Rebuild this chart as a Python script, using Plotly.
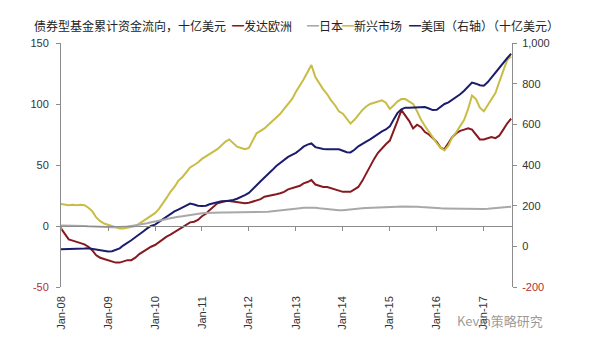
import plotly.graph_objects as go
import pandas as pd

# Monthly observations, Jan 2008 - Aug 2017
dates = pd.date_range("2008-01-01", "2017-08-01", freq="MS")

# Cumulative bond-fund flows, USD bn (left axis)
europe = [
    -2, -7, -11, -12, -13, -14, -15, -17, -20, -24, -26, -27,
    -28, -29, -30, -30, -29, -28, -28, -26, -23, -21, -19, -17,
    -15.6, -13, -11, -8.7, -7, -5, -3.3, -1, 1, 3, 3.5, 5,
    8, 10, 13, 16, 18.6, 19.5, 20.5, 20.5, 20, 19, 18.6, 18.6,
    19, 20, 21, 22, 24, 24.5, 25.5, 26, 26.8, 28, 30, 31,
    32, 33, 35, 36, 37.7, 34, 33, 32, 32, 31, 30, 29.5,
    28, 28, 28, 30, 32, 37, 43, 50, 55, 60, 64, 67,
    70, 78, 86, 95, 91, 86, 80, 83, 81, 77, 75, 72,
    69, 64, 63, 68, 73, 76, 78, 79, 80, 79, 75, 71,
    71, 72, 73, 72, 74, 79, 84, 88,
]
japan = [
    0.5, 0.5, 0.3, 0.2, 0, 0, 0, -0.3, -0.5, -0.8, -1, -1,
    -1, -1, -1, -1, -0.8, -0.5, 0, 0.5, 0.8, 1.5, 2.2, 3,
    3.5, 4.2, 5, 5.8, 6.5, 7.2, 7.6, 8, 8.6, 9.1, 9.6, 10,
    10.4, 10.6, 10.8, 11, 11, 11.1, 11, 11, 11, 11, 11, 11,
    11, 11, 11, 11, 11.3, 11.6, 12, 12.3, 12.6, 13, 13.5, 14,
    14.3, 14.6, 15, 15.2, 15.3, 15, 14.6, 14.2, 13.8, 13.5, 13.2, 13,
    13, 13.2, 13.5, 13.8, 14.2, 14.5, 14.8, 15, 15.2, 15.3, 15.4, 15.5,
    15.6, 15.7, 15.8, 15.9, 16, 16, 16, 15.8, 15.5, 15.2, 15, 14.8,
    14.6, 14.5, 14.4, 14.3, 14.2, 14.1, 14, 14, 14, 14, 14, 14,
    14, 14.2, 14.5, 14.8, 15.1, 15.4, 15.6, 15.8,
]
emerging = [
    18, 17.5, 17, 17.5, 17, 17.5, 17, 15, 12, 7, 4, 2,
    1, 0, -1, -2, -2, -1.5, -1, 0, 2, 4, 6, 8,
    10.5, 14, 18, 23, 28, 32, 37, 40, 44, 48, 50, 52,
    55, 57, 59, 61, 63, 66, 69, 71, 68, 65, 64, 63,
    64, 70, 76, 78, 80, 83, 86, 89, 92, 96, 100, 104,
    110, 115, 120, 126, 132, 122, 117, 112, 108, 103, 99, 94,
    92, 88, 84, 87, 91, 95, 98, 100, 101, 102, 103, 101,
    96, 99, 102, 104, 104, 102, 100, 94, 87, 82, 77, 72,
    68, 64, 62, 66, 73, 77, 82, 87, 96, 107, 104, 97,
    94, 99, 103, 109, 118, 128, 136, 139,
]
# US, right axis, USD bn
usa = [
    -14, -14, -13, -13, -12, -12, -11, -9, -12, -16, -20, -24,
    -25, -24, -18, -10, 5, 17, 30, 45, 58, 73, 88, 100,
    107, 120, 135, 148, 160, 172, 181, 192, 202, 210, 206, 200,
    198, 200, 207, 213, 218, 222, 222, 224, 228, 234, 242, 252,
    263, 280, 300, 320, 337, 355, 375, 395, 411, 425, 440, 450,
    460, 475, 490, 500, 506, 488, 482, 479, 477, 476, 476, 477,
    470, 463, 462, 475, 492, 505, 515, 526, 540, 555, 565, 575,
    590, 625, 655, 674, 682, 681, 682, 680, 683, 685, 678, 670,
    672, 685, 700, 708, 720, 735, 748, 765, 785, 805, 800, 792,
    790, 808, 830, 855, 875, 900, 925, 947,
]

names = ["发达欧洲", "日本", "新兴市场", "美国（右轴）"]
colors = ["#851A20", "#A8A8A8", "#C9BC45", "#1C1C6E"]

year_ticks = pd.date_range("2008-01-01", "2017-01-01", freq="YS")
left_ticks = [-50, 0, 50, 100, 150]
right_ticks = [-200, 0, 200, 400, 600, 800, 1000]
neg_color = "#B23030"

# plot-area geometry in pixels
L, R, T, B = 61, 512, 43, 287
W, H = 600, 343


def px(x):
    return (x - L) / (R - L)


def py(y):
    return (B - y) / (B - T)


def tick_text(v):
    s = f"{v:,}"
    return f"<span style='color:{neg_color}'>{s}</span>" if v < 0 else s


fig = go.Figure()
fig.add_trace(go.Scatter(x=dates, y=europe, name=names[0], mode="lines",
                         line=dict(color=colors[0], width=2), xaxis="x", yaxis="y"))
fig.add_trace(go.Scatter(x=dates, y=emerging, name=names[2], mode="lines",
                         line=dict(color=colors[2], width=2), xaxis="x", yaxis="y"))
fig.add_trace(go.Scatter(x=dates, y=japan, name=names[1], mode="lines",
                         line=dict(color=colors[1], width=2), xaxis="x2", yaxis="y"))
fig.add_trace(go.Scatter(x=dates, y=usa, name=names[3], mode="lines",
                         line=dict(color=colors[3], width=2), xaxis="x", yaxis="y2"))

axis_font = dict(family="Liberation Sans, Arial, sans-serif", size=11, color="#333333")
x_range = ["2008-01-01", "2017-08-08"]

fig.update_layout(
    width=W, height=H,
    margin=dict(l=L, r=W - R, t=T, b=H - B),
    paper_bgcolor="white", plot_bgcolor="white",
    showlegend=False,
    xaxis=dict(type="date", range=x_range, tickvals=year_ticks, tickformat="%b-%y",
               tickangle=-90, showline=False, ticks="", showgrid=False, zeroline=False,
               tickfont=axis_font, ticklabelstandoff=6),
    xaxis2=dict(type="date", range=x_range, overlaying="x", matches="x", anchor="free",
                position=0.25, side="bottom", showline=True, linecolor="#8C8C8C",
                linewidth=1, ticks="outside", ticklen=4, tickcolor="#8C8C8C",
                tickvals=year_ticks, showticklabels=False, showgrid=False, zeroline=False),
    yaxis=dict(range=[-50, 150], tickvals=left_ticks,
               ticktext=[tick_text(v) for v in left_ticks],
               showline=True, linecolor="#8C8C8C", linewidth=1, ticks="outside",
               ticklen=4, tickcolor="#8C8C8C", showgrid=False, zeroline=False,
               tickfont=axis_font, ticklabelstandoff=5),
    yaxis2=dict(range=[-200, 1000], tickvals=right_ticks,
                ticktext=[tick_text(v) for v in right_ticks],
                overlaying="y", side="right", anchor="x",
                showline=True, linecolor="#8C8C8C", linewidth=1, ticks="outside",
                ticklen=4, tickcolor="#8C8C8C", showgrid=False, zeroline=False,
                tickfont=axis_font, ticklabelstandoff=3),
)

cjk = "Noto Sans CJK SC, sans-serif"
head_y = 26
ann = []
ann.append(dict(text="债券型基金累计资金流向，十亿美元", x=px(32), y=py(head_y),
                xref="paper", yref="paper", xanchor="left", yanchor="middle",
                showarrow=False, font=dict(family=cjk, size=12, color="#222222")))

# legend row
legend_x = [230, 305, 340, 407]
legend_labels = [names[0], names[1], names[2], names[3] + "（十亿美元）"]
for lx, lab, c in zip(legend_x, legend_labels, colors):
    ann.append(dict(text=f"<span style='color:{c}'>━</span>{lab}", x=px(lx), y=py(head_y),
                    xref="paper", yref="paper", xanchor="left", yanchor="middle",
                    showarrow=False, font=dict(family=cjk, size=12, color="#222222")))

ann.append(dict(text="Kevin策略研究", x=px(455), y=py(320), xref="paper", yref="paper",
                xanchor="left", yanchor="middle", showarrow=False,
                font=dict(family=cjk, size=13, color="rgba(120,120,120,0.75)")))

fig.update_layout(annotations=ann)
fig.write_html("out.html")
